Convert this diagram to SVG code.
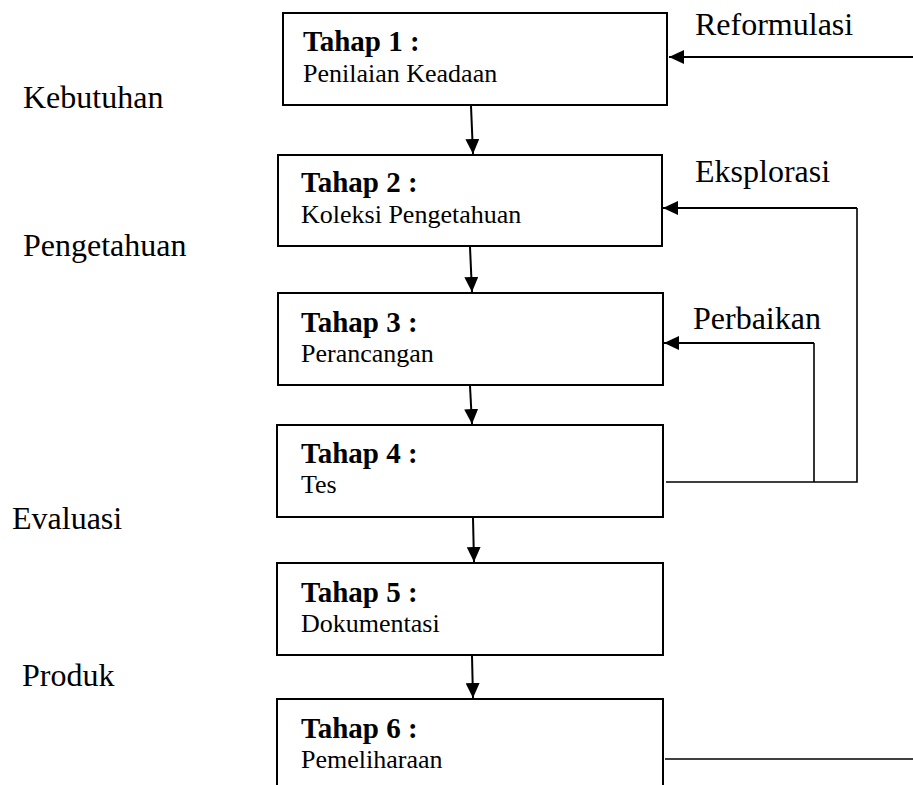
<svg xmlns="http://www.w3.org/2000/svg" width="913" height="785" viewBox="0 0 913 785">
<style>
.box{fill:#fff;stroke:#000;stroke-width:2}
.t{font-family:"Liberation Serif","Times New Roman",serif;fill:#000}
.h{font-size:29px;font-weight:bold}
.s{font-size:26px}
.lab{font-size:32px}
.c{fill:none;stroke:#000;stroke-width:2}
.f{fill:none;stroke:#000;stroke-width:1.6}
</style>
<defs>
<marker id="ah" markerUnits="userSpaceOnUse" markerWidth="16" markerHeight="14" refX="15" refY="7" orient="auto">
<path d="M0,0 L15,7 L0,14 Z" fill="#000"/>
</marker>
</defs>
<rect width="913" height="785" fill="#fff"/>
<g id="labels">
<text class="t lab" x="23" y="108">Kebutuhan</text>
<text class="t lab" x="23" y="256">Pengetahuan</text>
<text class="t lab" x="12" y="529">Evaluasi</text>
<text class="t lab" x="22" y="686">Produk</text>
<text class="t lab" x="695" y="35">Reformulasi</text>
<text class="t lab" x="695" y="182">Eksplorasi</text>
<text class="t lab" x="693" y="329">Perbaikan</text>
</g>
<g id="tahap1">
<rect class="box" x="283" y="13" width="384" height="92"/>
<text class="t h" x="303" y="51">Tahap 1 :</text>
<text class="t s" x="303" y="82">Penilaian Keadaan</text>
</g>
<g id="tahap2">
<rect class="box" x="278" y="155" width="384" height="91"/>
<text class="t h" x="301" y="192">Tahap 2 :</text>
<text class="t s" x="301" y="223">Koleksi Pengetahuan</text>
</g>
<g id="tahap3">
<rect class="box" x="278" y="293" width="385" height="92"/>
<text class="t h" x="301" y="332">Tahap 3 :</text>
<text class="t s" x="301" y="362">Perancangan</text>
</g>
<g id="tahap4">
<rect class="box" x="277" y="425" width="386" height="92"/>
<text class="t h" x="301" y="463">Tahap 4 :</text>
<text class="t s" x="301" y="493">Tes</text>
</g>
<g id="tahap5">
<rect class="box" x="277" y="563" width="386" height="92"/>
<text class="t h" x="301" y="602">Tahap 5 :</text>
<text class="t s" x="301" y="632">Dokumentasi</text>
</g>
<g id="tahap6">
<rect class="box" x="277" y="699" width="386" height="120"/>
<text class="t h" x="301" y="738">Tahap 6 :</text>
<text class="t s" x="301" y="768">Pemeliharaan</text>
</g>
<g id="connectors">
<line class="c" x1="471" y1="106" x2="473" y2="154" marker-end="url(#ah)"/>
<line class="c" x1="470" y1="247" x2="472" y2="292" marker-end="url(#ah)"/>
<line class="c" x1="470" y1="386" x2="472" y2="424" marker-end="url(#ah)"/>
<line class="c" x1="473" y1="518" x2="474" y2="562" marker-end="url(#ah)"/>
<line class="c" x1="472" y1="656" x2="473" y2="698" marker-end="url(#ah)"/>
<line class="c" x1="913" y1="57" x2="669" y2="57" marker-end="url(#ah)"/>
<polyline class="f" points="666,482 857,482 857,208"/>
<line class="c" x1="857" y1="208" x2="663" y2="208" marker-end="url(#ah)"/>
<line class="f" x1="814" y1="482" x2="814" y2="343"/>
<line class="c" x1="814" y1="343" x2="664" y2="343" marker-end="url(#ah)"/>
<line class="f" x1="665" y1="759" x2="913" y2="759"/>
</g>
</svg>
